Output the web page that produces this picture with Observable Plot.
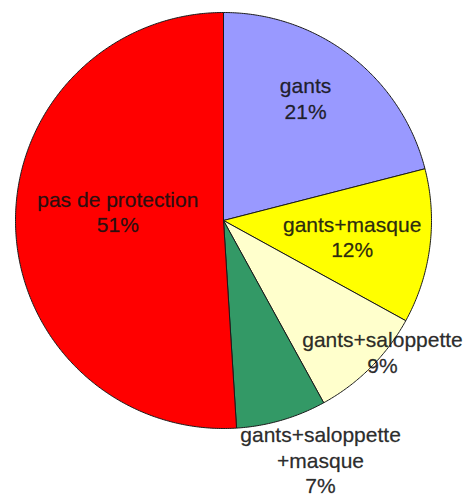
<!DOCTYPE html>
<html><head><meta charset="utf-8">
<script src="https://cdn.jsdelivr.net/npm/d3@7"></script>
<script src="https://cdn.jsdelivr.net/npm/@observablehq/plot@0.6"></script>
<style>body{margin:0;background:#fff;} svg{display:block;}</style>
</head><body><div id="chart"></div>
<script>
// Data
const categories = ["gants", "gants+masque", "gants+saloppette", "gants+saloppette+masque", "pas de protection"];
const labelTexts = ["gants", "gants+masque", "gants+saloppette", "gants+saloppette\n+masque", "pas de protection"];
const percents = [21, 12, 9, 7, 51];
const colors = ["#9999ff", "#ffff00", "#ffffcc", "#339966", "#ff0000"];
// Label layout (fraction of radius, angular nudge in degrees)
const labelRadius = [0.709, 0.623, 0.992, 1.24, 0.51];
const labelTurn = [-4.0, -0.3, -5.4, -5.9, 6.7];

const arcs = d3.pie().sort(null).value(d => d)(percents);
const points = [];
arcs.forEach((a, i) => {
  const n = Math.max(2, Math.ceil((a.endAngle - a.startAngle) / (Math.PI / 360)));
  points.push({k: categories[i], x: 0, y: 0});
  for (let j = 0; j <= n; j++) {
    const t = a.startAngle + (a.endAngle - a.startAngle) * j / n;
    points.push({k: categories[i], x: Math.sin(t), y: Math.cos(t)});
  }
  points.push({k: categories[i], x: 0, y: 0});
});
const labels = arcs.map((a, i) => {
  const t = (a.startAngle + a.endAngle) / 2 + labelTurn[i] * Math.PI / 180;
  return {text: labelTexts[i] + "\n" + percents[i] + "%", x: labelRadius[i] * Math.sin(t), y: labelRadius[i] * Math.cos(t)};
});

const chart = Plot.plot({
  width: 466, height: 498,
  marginLeft: 15, marginRight: 35, marginTop: 12, marginBottom: 70,
  x: {domain: [-1, 1], axis: null},
  y: {domain: [-1, 1], axis: null},
  color: {type: "ordinal", domain: categories, range: colors},
  style: {background: "#fff", fontFamily: "'Liberation Sans', Arial, sans-serif", overflow: "visible"},
  marks: [
    Plot.line(points, {x: "x", y: "y", z: "k", fill: "k", stroke: "#1a1a1a", strokeWidth: 1, curve: "linear"}),
    Plot.text(labels, {x: "x", y: "y", text: "text", fontSize: 21, lineHeight: 1.2, lineAnchor: "middle", textAnchor: "middle",
      fill: "#111", fillOpacity: 0.9, stroke: "#111", strokeWidth: 0.4, strokeOpacity: 0.6})
  ]
});
document.getElementById("chart").appendChild(chart);
</script>
</body></html>
